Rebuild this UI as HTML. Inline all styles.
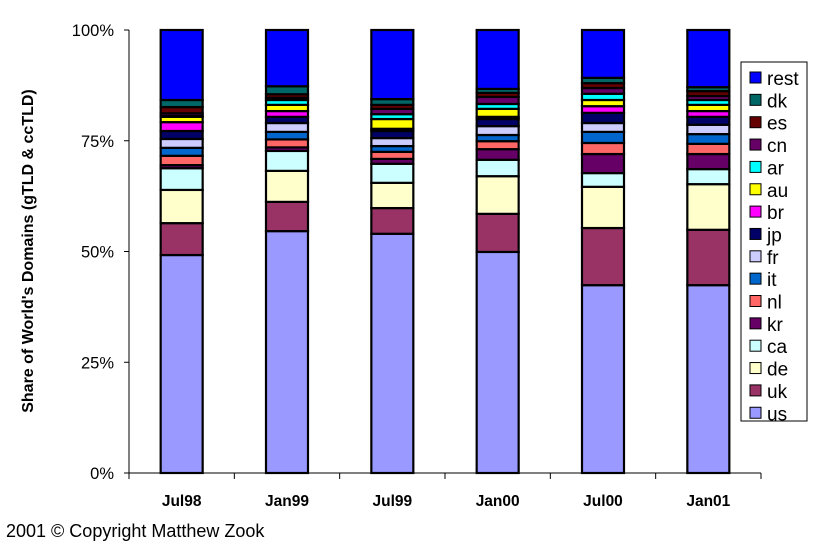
<!DOCTYPE html>
<html><head><meta charset="utf-8"><style>
body{margin:0;background:#fff;font-family:"Liberation Sans",Arial,sans-serif}
svg text{font-family:"Liberation Sans",Arial,sans-serif}
</style></head><body>
<svg id="c" width="814" height="551" viewBox="0 0 814 551">
<g id="plot"></g>
<g id="axes"></g>
<g id="legend"></g>
<text x="33" y="251" transform="rotate(-90 33 251)" text-anchor="middle" font-size="16" font-weight="bold">Share of World's Domains (gTLD &amp; ccTLD)</text>
<text x="6" y="537" font-size="18">2001 © Copyright Matthew Zook</text>
</svg>
<script>
const categories = ["Jul98","Jan99","Jul99","Jan00","Jul00","Jan01"];
const seriesNames = ["us","uk","de","ca","kr","nl","it","fr","jp","br","au","ar","cn","es","dk","rest"];
const us   = [49.2,54.6,54.0,49.9,42.4,42.4];
const uk   = [7.2,6.6,5.8,8.6,12.9,12.5];
const de   = [7.5,7.0,5.7,8.5,9.3,10.3];
const ca   = [4.9,4.5,4.3,3.7,3.1,3.4];
const kr   = [0.7,0.8,1.1,2.4,4.3,3.4];
const nl   = [2.1,1.8,1.6,1.8,2.5,2.3];
const it   = [1.8,1.7,1.3,1.4,2.5,2.2];
const fr   = [2.0,2.0,1.8,2.0,2.0,2.1];
const jp   = [1.8,1.4,1.6,1.6,2.3,1.8];
const br   = [2.0,1.3,0.5,0.5,1.5,1.3];
const au   = [1.2,1.4,2.2,1.8,1.4,1.4];
const ar   = [0.2,1.1,1.1,1.1,1.4,1.1];
const cn   = [0.6,0.5,1.2,1.6,1.3,0.9];
const es   = [1.4,0.8,0.9,0.9,1.1,1.1];
const dk   = [1.6,1.8,1.3,0.9,1.2,0.9];
const rest = [15.8,12.7,15.6,13.3,10.8,12.9];
const yTicks = [0,25,50,75,100];
const yTickLabels = ["0%","25%","50%","75%","100%"];

const seriesData = [us,uk,de,ca,kr,nl,it,fr,jp,br,au,ar,cn,es,dk,rest];
const colors = ["#9999FF","#993366","#FFFFCC","#CCFFFF","#660066","#FF6666","#0066CC","#CCCCFF","#000066","#FF00FF","#FFFF00","#00FFFF","#660066","#660000","#006666","#0000FF"];
const NS="http://www.w3.org/2000/svg";
const X0=129, X1=761, Y0=473, Y1=30, BW=42;
const band=(X1-X0)/categories.length;
function xC(i){return X0+band*(i+0.5);}
function yS(v){return Y0-(Y0-Y1)*v/100;}
function mk(tag,attrs,parent){const e=document.createElementNS(NS,tag);for(const k in attrs)e.setAttribute(k,attrs[k]);parent.appendChild(e);return e;}
const plot=document.getElementById('plot'), axes=document.getElementById('axes'), legend=document.getElementById('legend');

categories.forEach((cat,i)=>{
  let totals=0; seriesData.forEach(s=>totals+=s[i]);
  let cum=0;
  seriesData.forEach((s,j)=>{
    const v=s[i]/totals*100;
    const r=mk('rect',{x:xC(i)-BW/2,y:yS(cum+v),width:BW,height:yS(cum)-yS(cum+v),fill:colors[j],stroke:'#000','stroke-width':2.2},plot);
    
    
    cum+=v;
  });
  const t=mk('text',{x:xC(i),y:506,'text-anchor':'middle','font-size':15.5,'font-weight':'bold'},axes);
  t.textContent=cat;
  
  
});
const ya=mk('line',{x1:X0,y1:Y1,x2:X0,y2:Y0,stroke:'#000','stroke-width':1},axes);


const xa=mk('line',{x1:X0,y1:Y0,x2:X1,y2:Y0,stroke:'#000','stroke-width':1},axes);


for(let i=0;i<=categories.length;i++){
  const tk=mk('line',{x1:X0+band*i,y1:Y0,x2:X0+band*i,y2:Y0+6,stroke:'#000'},axes);
  
  
}
yTicks.forEach((v,i)=>{
  const tk=mk('line',{x1:X0-5,y1:yS(v),x2:X0,y2:yS(v),stroke:'#000'},axes);
  
  
  const t=mk('text',{x:114,y:yS(v)+6,'text-anchor':'end','font-size':16.5},axes);
  t.textContent=yTickLabels[i];
  
  
});
const lb=mk('rect',{x:741,y:62,width:66,height:359,fill:'#fff',stroke:'#000','stroke-width':1},legend);


for(let k=0;k<seriesNames.length;k++){
  const j=seriesNames.length-1-k;
  const y=78+k*22.35;
  const g=mk('g',{},legend);
  
  
  mk('rect',{x:750,y:y-6,width:11,height:11,fill:colors[j],stroke:'#000','stroke-width':1},g);
  const t=mk('text',{x:767,y:y+7,'font-size':19},g);
  t.textContent=seriesNames[j];
}
</script>
</body></html>
